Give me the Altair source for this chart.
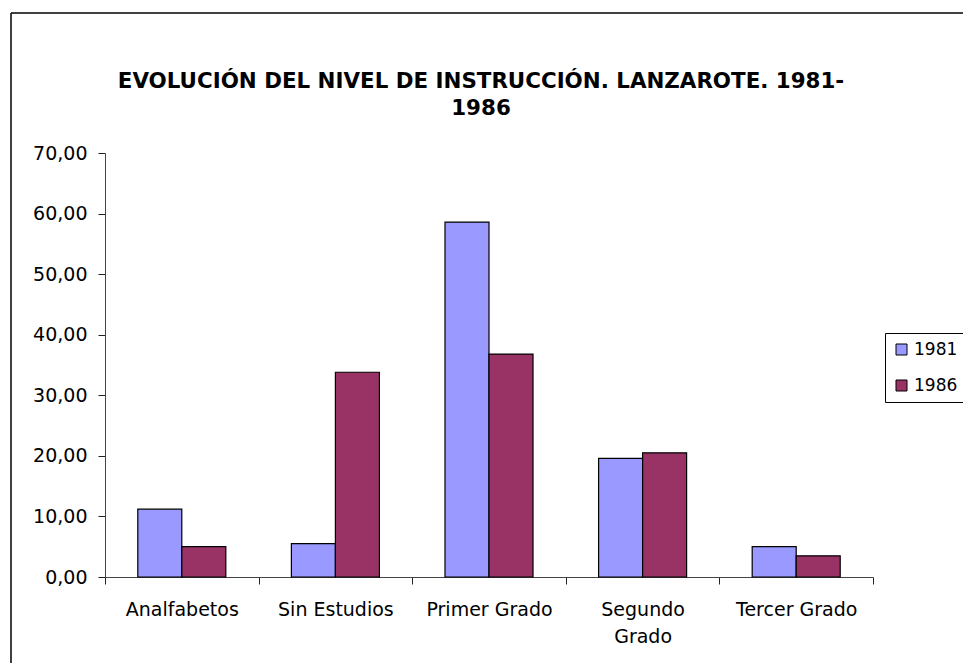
import altair as alt
import pandas as pd

categories = ["Analfabetos", "Sin Estudios", "Primer Grado", "Segundo Grado", "Tercer Grado"]
years = ["1981", "1986"]
values_1981 = [11.2, 5.5, 58.6, 19.6, 5.0]
values_1986 = [5.0, 33.8, 36.8, 20.5, 3.5]
y_ticks = [0, 10, 20, 30, 40, 50, 60, 70]
title_lines = ["EVOLUCIÓN DEL NIVEL DE INSTRUCCIÓN. LANZAROTE. 1981-", "1986"]

rows = []
for c, a, b in zip(categories, values_1981, values_1986):
    rows.append({"cat": c, "year": years[0], "val": a})
    rows.append({"cat": c, "year": years[1], "val": b})
df = pd.DataFrame(rows)

FONT = "DejaVu Sans"

bars = alt.Chart(df).mark_bar(stroke="black", strokeWidth=1.2).encode(
    x=alt.X("cat:N", sort=categories, title=None,
            scale=alt.Scale(paddingInner=0, paddingOuter=0),
            axis=alt.Axis(labelAngle=0, tickBand="extent", tickSize=7,
                          labelPadding=16, labelFontSize=19, labelFont=FONT,
                          labelColor="black", domainColor="#444", tickColor="#222",
                          labelLineHeight=27,
                          labelExpr="datum.value == 'Segundo Grado' ? ['Segundo', 'Grado'] : datum.value")),
    xOffset=alt.XOffset("year:N", sort=years,
                        scale=alt.Scale(paddingInner=0, paddingOuter=0.745)),
    y=alt.Y("val:Q", title=None,
            scale=alt.Scale(domain=[0, 70], nice=False),
            axis=alt.Axis(values=y_ticks, tickSize=7, labelPadding=11,
                          labelFontSize=19, labelFont=FONT, labelColor="black",
                          domainColor="#444", tickColor="#222", grid=False,
                          labelExpr="replace(format(datum.value, '.2f'), '.', ',')")),
    color=alt.Color("year:N", sort=years,
                    scale=alt.Scale(domain=years, range=["#9999FF", "#993366"]),
                    legend=alt.Legend(title=None, orient="none", legendX=780, legendY=180,
                                      symbolType="square", symbolSize=121,
                                      symbolStrokeColor="black", symbolStrokeWidth=1,
                                      labelFontSize=17, labelFont=FONT, labelColor="black",
                                      labelOffset=4, rowPadding=18, padding=8,
                                      strokeColor="black", fillColor="white")),
)

border_left = alt.Chart(pd.DataFrame({"k": [0]})).mark_rule(color="black", strokeWidth=1.5).encode(
    x=alt.value(-94), y=alt.value(-140), y2=alt.value(520)
)
border_top = alt.Chart(pd.DataFrame({"k": [0]})).mark_rule(color="black", strokeWidth=1.5).encode(
    x=alt.value(-94), x2=alt.value(870), y=alt.value(-140)
)

chart = alt.layer(border_left, border_top, bars).properties(
    width=768, height=424,
    padding={"left": 97, "top": 145, "right": 90, "bottom": 86},
    autosize=alt.AutoSizeParams(type="none"),
    title=alt.TitleParams(text=title_lines, anchor="middle", fontSize=21.4, font=FONT,
                          fontWeight="bold", color="black", lineHeight=27, offset=10,
                          dx=-8, dy=117),
).configure(background="white", view=alt.ViewConfig(strokeWidth=0))

chart.save("out.html", embed_options={"renderer": "svg", "actions": False})
